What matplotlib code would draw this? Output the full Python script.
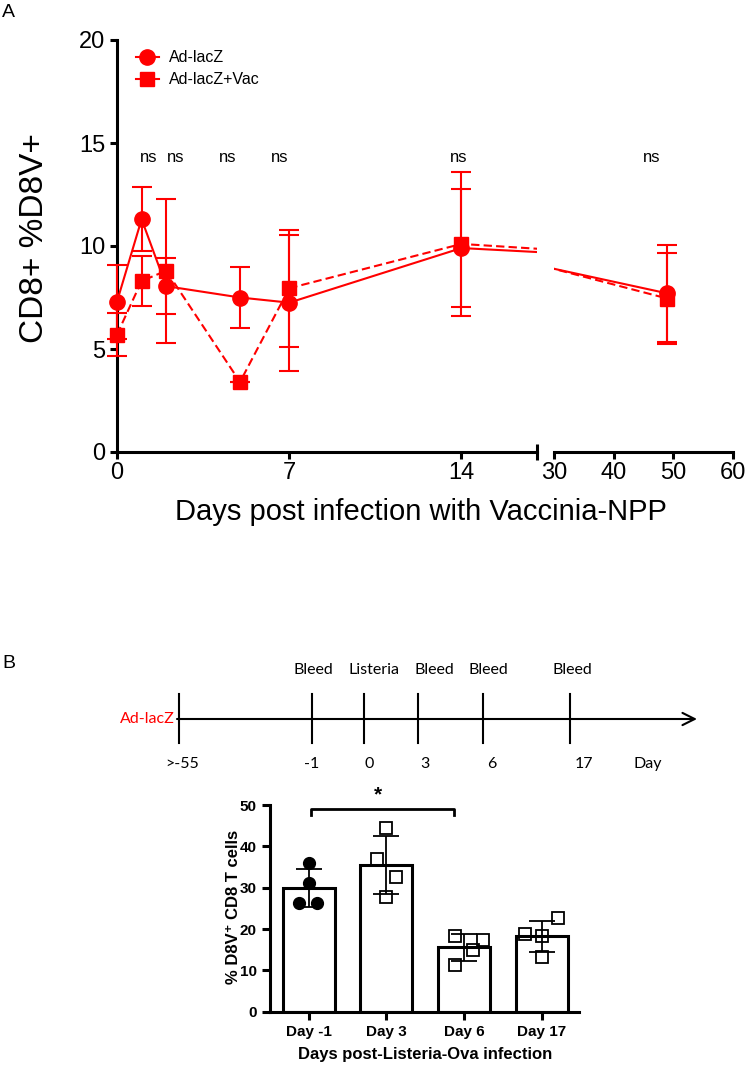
import numpy as np
import matplotlib
matplotlib.use('Agg')
import matplotlib.pyplot as plt
from matplotlib.lines import Line2D

plt.rcParams['font.family'] = ['Liberation Sans', 'DejaVu Sans']

RED = '#ff0000'

# ---- panel A data ----
days_a = [0, 1, 2, 5, 7, 14, 49]
lacz_mean = [7.3, 11.3, 8.05, 7.5, 7.25, 9.9, 7.7]
lacz_err = [1.8, 1.55, 1.35, 1.5, 3.3, 2.85, 2.35]
vac_mean = [5.7, 8.3, 8.8, 3.4, 7.95, 10.1, 7.45]
vac_err = [1.05, 1.2, 3.5, 0.0, 2.85, 3.5, 2.2]
ns_days = [1.3, 2.4, 4.5, 6.6, 13.9, 46.4]
ns_level = 14.3

# ---- panel B timeline ----
tl_days = ['>-55', '-1', '0', '3', '6', '17']
tl_events = ['', 'Bleed', 'Listeria', 'Bleed', 'Bleed', 'Bleed']

# ---- panel B bars ----
bar_cats = ['Day -1', 'Day 3', 'Day 6', 'Day 17']
bar_mean = [30.0, 35.5, 15.6, 18.3]
bar_sd = [4.6, 7.05, 3.3, 3.75]
pts_dm1 = [35.9, 31.1, 26.2, 26.2]
pts_d3 = [44.5, 36.9, 32.7, 27.8]
pts_d6 = [18.3, 17.3, 14.9, 11.3]
pts_d17 = [18.7, 18.4, 22.6, 13.3]

W, H = 747, 1065
fig = plt.figure(figsize=(W / 100, H / 100), dpi=100)


def fx(px):
    return px / W


def fy(py):
    return 1 - py / H


# ================= panel A =================
ax1 = fig.add_axes([fx(117), fy(452), fx(537) - fx(117), fy(40) - fy(452)])
ax2 = fig.add_axes([fx(554), fy(452), fx(733) - fx(554), fy(40) - fy(452)])
brk = 17.07
ax1.set_xlim(0, brk)
ax2.set_xlim(30, 60)

for ax in (ax1, ax2):
    ax.set_ylim(0, 20)
    ax.patch.set_alpha(0)
    for s in ('top', 'right'):
        ax.spines[s].set_visible(False)
    for s in ('left', 'bottom'):
        ax.spines[s].set_linewidth(2.2)
    ax.tick_params(width=2.2, length=5, labelsize=17)
    ax.tick_params(which='minor', direction='inout', length=12, width=2.2)
    # connecting lines (clipped so they break at the axis gap)
    ax.plot(days_a, lacz_mean, color=RED, lw=1.5, zorder=3)
    ax.plot(days_a, vac_mean, color=RED, lw=1.5, dashes=(4, 2), zorder=3)
    lo, hi = ax.get_xlim()
    sel = [i for i, d in enumerate(days_a) if lo <= d <= hi]
    dd = [days_a[i] for i in sel]
    ax.errorbar(dd, [vac_mean[i] for i in sel], yerr=[vac_err[i] for i in sel],
                fmt='s', ms=10, color=RED, elinewidth=1.5, capsize=7, capthick=1.5,
                clip_on=False, zorder=5)
    ax.errorbar(dd, [lacz_mean[i] for i in sel], yerr=[lacz_err[i] for i in sel],
                fmt='o', ms=11, color=RED, elinewidth=1.5, capsize=7, capthick=1.5,
                clip_on=False, zorder=6)
    for d in ns_days:
        if lo <= d <= hi:
            ax.text(d, ns_level, 'ns', ha='center', va='center', fontsize=12)

ax1.set_yticks([0, 5, 10, 15, 20])
ax1.set_xticks([0, 7, 14])
ax1.set_xticks([brk], minor=True)
ax2.set_xticks([30, 40, 50, 60])
ax2.set_xticks([30], minor=True)
ax2.spines['left'].set_visible(False)
ax2.tick_params(axis='y', left=False, labelleft=False)
ax1.tick_params(axis='x', pad=2)
ax2.tick_params(axis='x', pad=2)

handles = [Line2D([], [], color=RED, marker='o', ms=11, lw=1.5),
           Line2D([], [], color=RED, marker='s', ms=10, lw=1.5)]
ax1.legend(handles, ['Ad-lacZ', 'Ad-lacZ+Vac'], loc='upper left',
           bbox_to_anchor=(0.045, 0.975), frameon=False, fontsize=11.5,
           handlelength=1.45, handletextpad=0.6, borderpad=0, borderaxespad=0,
           labelspacing=0.45)

fig.text(fx(421), fy(512), 'Days post infection with Vaccinia-NPP',
         ha='center', va='center', fontsize=21)
fig.text(fx(34.5), fy(238.5), 'CD8+ %D8V+', rotation=90,
         ha='center', va='center', fontsize=24)
fig.text(fx(2), fy(4), 'A', ha='left', va='top', fontsize=14)
fig.text(fx(2), fy(655), 'B', ha='left', va='top', fontsize=14)

# ================= panel B timeline (schematic) =================
tl = fig.add_axes([0, 0, 1, 1])
tl.set_xlim(0, W)
tl.set_ylim(H, 0)
tl.axis('off')
tick_x = [178.5, 311.6, 364, 417.6, 482.7, 570]
day_x = [182, 312, 369, 424.5, 492, 584]
ev_x = [0, 313, 374, 434, 488, 572]
tl_y = 719
tl.annotate('', xy=(697, tl_y), xytext=(177, tl_y),
            arrowprops=dict(arrowstyle='->', lw=1.5, color='black',
                            mutation_scale=22, shrinkA=0, shrinkB=0))
tf = ['Lato', 'DejaVu Sans']
for x, lab, ev, dx, ex in zip(tick_x, tl_days, tl_events, day_x, ev_x):
    tl.plot([x, x], [694, 743], color='black', lw=1.5)
    tl.text(dx, 764, lab, ha='center', va='center', fontsize=11.5, family=tf)
    if ev:
        tl.text(ex, 670, ev, ha='center', va='center', fontsize=11.5, family=tf)
tl.text(648, 764, 'Day', ha='center', va='center', fontsize=11.5, family=tf)
tl.text(175, tl_y, 'Ad-lacZ', ha='right', va='center', fontsize=11.5,
        color=RED, family=tf)

# ================= panel B bar chart =================
ax3 = fig.add_axes([fx(270), fy(1011.7), fx(579) - fx(270), fy(805) - fy(1011.7)])
xs = np.arange(len(bar_cats))
ax3.bar(xs, bar_mean, width=0.67, color='white', edgecolor='black', lw=2.2, zorder=1)
ax3.errorbar(xs, bar_mean, yerr=bar_sd, fmt='none', ecolor='black', elinewidth=1.3,
             capsize=9.5, capthick=1.3, zorder=3)
jitter = [[0, 0, -0.125, 0.107], [0, -0.12, 0.12, 0],
          [-0.116, 0.24, 0.12, -0.116], [-0.21, 0, 0.215, 0]]
groups = [pts_dm1, pts_d3, pts_d6, pts_d17]
for i, (vals, jit) in enumerate(zip(groups, jitter)):
    px = [i + j for j in jit]
    if i == 0:
        ax3.plot(px, vals, 'o', ms=8.5, color='black', zorder=4, clip_on=False)
    else:
        ax3.plot(px, vals, 's', ms=8.5, mfc='none', mec='black', mew=1.3,
                 zorder=4, clip_on=False)
ax3.set_xlim(-0.5, 3.48)
ax3.set_ylim(0, 50)
ax3.set_yticks([0, 10, 20, 30, 40, 50])
ax3.set_xticks(xs)
ax3.set_xticklabels(bar_cats)
for s in ('top', 'right'):
    ax3.spines[s].set_visible(False)
for s in ('left', 'bottom'):
    ax3.spines[s].set_linewidth(2.2)
ax3.tick_params(width=2.2, length=6, labelsize=11)
for lab in ax3.get_xticklabels() + ax3.get_yticklabels():
    lab.set_fontweight('bold')
ax3.plot([0.03, 0.03, 1.87, 1.87], [47.5, 49.1, 49.1, 47.5], color='black',
         lw=2, clip_on=False)
ax3.text(0.885, 52.4, '*', ha='center', va='center', fontsize=15, fontweight='bold')
fig.text(fx(233), fy(907), '% D8V\u207a CD8 T cells', rotation=90, ha='center',
         va='center', fontsize=12, fontweight='bold')
fig.text(fx(425), fy(1054), 'Days post-Listeria-Ova infection', ha='center',
         va='center', fontsize=12, fontweight='bold')

fig.savefig('out.png', dpi=100)
